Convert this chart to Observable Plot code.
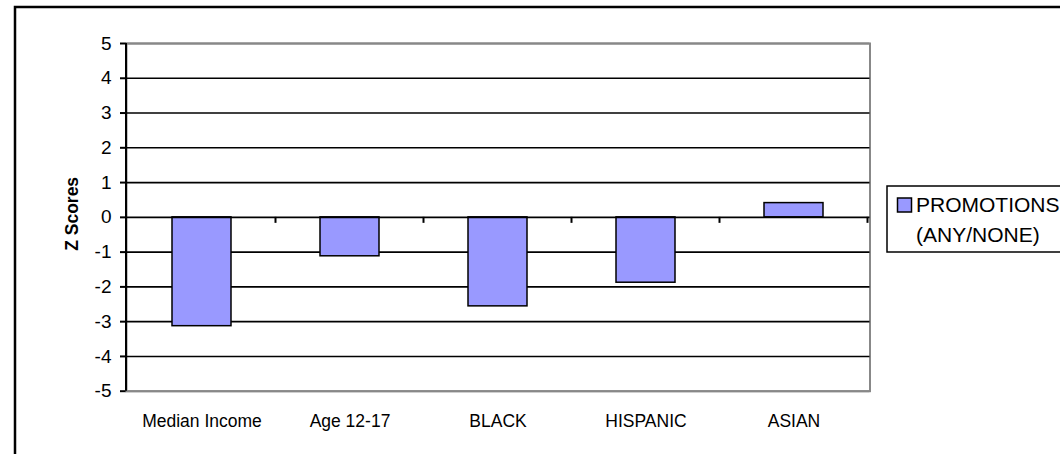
<!DOCTYPE html>
<html>
<head>
<meta charset="utf-8">
<script src="https://cdn.jsdelivr.net/npm/d3@7"></script>
<script src="https://cdn.jsdelivr.net/npm/@observablehq/plot@0.6"></script>
<style>
  html, body { margin: 0; padding: 0; background: white; overflow: hidden; }
  #chart { position: relative; width: 1060px; height: 454px; overflow: hidden; }
  #chart svg { display: block; }
  #chart [aria-label="y-axis tick"] { stroke-width: 2; }
</style>
</head>
<body>
<div id="chart"></div>
<script>
// ---- data ----
const categories = ["Median Income", "Age 12-17", "BLACK", "HISPANIC", "ASIAN"];
const zScores = [-3.13, -1.12, -2.56, -1.88, 0.41];
const yTicks = [-5, -4, -3, -2, -1, 0, 1, 2, 3, 4, 5];
const innerGrid = [-4, -3, -2, -1, 1, 2, 3, 4];
const edgeGrid = [-5, 5];
const yLabel = "Z Scores";
const legendLines = ["PROMOTIONS", "(ANY/NONE)"];

const data = categories.map((c, i) => ({category: c, value: zScores[i]}));

const W = 1060, H = 454;
const barFill = "#9999FF";

const plot = Plot.plot({
  width: W,
  height: H,
  marginLeft: 126,
  marginRight: 190.5,
  marginTop: 43,
  marginBottom: 63.3,
  style: {fontFamily: "'Liberation Sans', Arial, sans-serif", fontSize: "17.5px", background: "white", color: "black", overflow: "visible"},
  x: {domain: categories, paddingInner: 0.6, paddingOuter: 0.3, label: null, tickSize: 0, tickPadding: 23},
  y: {domain: [-5, 5], ticks: yTicks, tickSize: 6, tickPadding: 9, label: null, tickFormat: d => String(d)},
  marks: [
    Plot.frame({stroke: "#888", strokeWidth: 2, fill: "white"}),
    Plot.ruleY(innerGrid, {stroke: "black", strokeWidth: 1.6}),
    Plot.ruleY(edgeGrid, {stroke: "#888", strokeWidth: 2}),
    Plot.barY(data, {x: "category", y: "value", fill: barFill, stroke: "black", strokeWidth: 1.5}),
    Plot.ruleY([0], {stroke: "black", strokeWidth: 1.8})
  ]
});

document.getElementById("chart").appendChild(plot);

const svg = d3.select(plot);
const xs = plot.scale("x");
const ys = plot.scale("y");
const left = 126;
const y0 = ys.apply(0);

// enlarge y tick labels
const tickStrings = yTicks.map(String);
svg.selectAll("text").filter(function () {
  return tickStrings.includes(this.textContent.trim());
}).attr("font-size", 19).style("font-size", "19px");

// outer chart border (behind everything)
svg.insert("rect", ":first-child")
  .attr("x", 15).attr("y", 7).attr("width", 1200).attr("height", 600)
  .attr("fill", "white").attr("stroke", "black").attr("stroke-width", 2.5);

// left value axis line
svg.append("line")
  .attr("x1", left).attr("x2", left)
  .attr("y1", ys.apply(5)).attr("y2", ys.apply(-5))
  .attr("stroke", "black").attr("stroke-width", 2);

// category boundary ticks on the zero line
const gap = xs.step - xs.bandwidth;
categories.forEach((c) => {
  const bx = xs.apply(c) + xs.bandwidth + gap / 2;
  svg.append("line")
    .attr("x1", bx).attr("x2", bx)
    .attr("y1", y0).attr("y2", y0 + 6)
    .attr("stroke", "black").attr("stroke-width", 2);
});

// y axis title
svg.append("text")
  .attr("transform", `translate(78, ${(ys.apply(5) + ys.apply(-5)) / 2 - 3}) rotate(-90)`)
  .attr("text-anchor", "middle")
  .attr("font-weight", "bold")
  .attr("font-size", 17.5)
  .attr("fill", "black")
  .text(yLabel);

// legend
const lg = svg.append("g").attr("font-size", 21).attr("fill", "black").attr("text-anchor", "start");
lg.append("rect")
  .attr("x", 887).attr("y", 186).attr("width", 400).attr("height", 66)
  .attr("fill", "white").attr("stroke", "black").attr("stroke-width", 1.5);
lg.append("rect")
  .attr("x", 897.5).attr("y", 198).attr("width", 14).attr("height", 14)
  .attr("fill", barFill).attr("stroke", "black").attr("stroke-width", 1.5);
legendLines.forEach((t, i) => {
  lg.append("text").attr("x", 916).attr("y", 211.5 + i * 30).attr("text-anchor", "start").text(t);
});
</script>
</body>
</html>
